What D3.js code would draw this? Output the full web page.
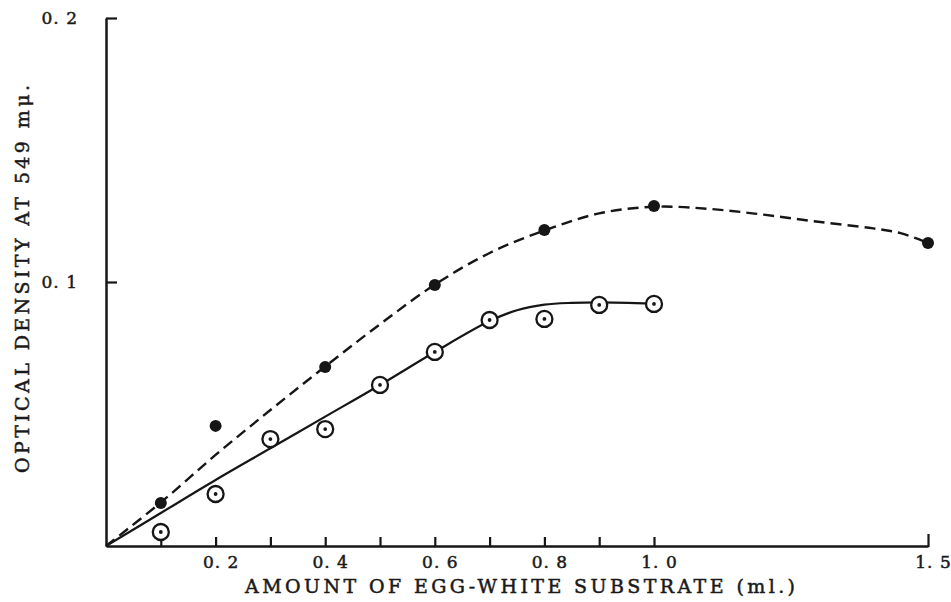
<!DOCTYPE html>
<html>
<head>
<meta charset="utf-8">
<script src="https://cdn.jsdelivr.net/npm/d3@7/dist/d3.min.js"></script>
<style>
  html, body { margin: 0; padding: 0; background: #fff; }
  svg { display: block; }
  .lbl { font-family: "DejaVu Serif", serif; fill: #1a1a1a; stroke: #1a1a1a; stroke-width: 0.5; }
</style>
</head>
<body>
<svg id="chart" width="951" height="602"></svg>
<script>
// Measured points: filled dots (dashed curve) and ringed dots (solid curve)
const filledX = [0.1, 0.2, 0.4, 0.6, 0.8, 1.0, 1.5];
const filledY = [0.0163, 0.0455, 0.0678, 0.0989, 0.1197, 0.1288, 0.1148];
const openX = [0.1, 0.2, 0.3, 0.4, 0.5, 0.6, 0.7, 0.8, 0.9, 1.0];
const openY = [0.0053, 0.0197, 0.0405, 0.0443, 0.061, 0.0735, 0.0856, 0.086, 0.0913, 0.0917];

// Hand-fitted smooth curves through each series
const dashCurveX = [0, 0.1, 0.2, 0.3, 0.4, 0.5, 0.6, 0.7, 0.8, 0.9, 1.0, 1.1, 1.2, 1.3, 1.4, 1.45, 1.5];
const dashCurveY = [0, 0.0165, 0.0345, 0.0515, 0.068, 0.084, 0.099, 0.111, 0.1195, 0.126, 0.1285, 0.1277, 0.1255, 0.1228, 0.1203, 0.1185, 0.1148];
const solidCurveX = [0, 0.1, 0.2, 0.3, 0.4, 0.5, 0.6, 0.7, 0.75, 0.8, 0.85, 0.9, 1.0];
const solidCurveY = [0, 0.0125, 0.025, 0.037, 0.049, 0.061, 0.0735, 0.0852, 0.0893, 0.0914, 0.0921, 0.0923, 0.0918];

// Axis ticks and labels
const xTicks = [0.1, 0.2, 0.3, 0.4, 0.5, 0.6, 0.7, 0.8, 0.9, 1.0, 1.5];
const xLabels = {0.2: "0. 2", 0.4: "0. 4", 0.6: "0. 6", 0.8: "0. 8", 1.0: "1. 0", 1.5: "1. 5"};
const yTicks = [0.1, 0.2];
const yLabels = {0.1: "0. 1", 0.2: "0. 2"};
const xTitle = "AMOUNT OF EGG-WHITE SUBSTRATE (ml.)";
const yTitle = "OPTICAL DENSITY AT 549 mμ.";

const svg = d3.select("#chart");
const x = d3.scaleLinear().domain([0, 1.5]).range([106, 928]);
const y = d3.scaleLinear().domain([0, 0.2]).range([546, 18]);
const ink = "#161616";

// X axis: ticks point up into the plot
const xAxis = d3.axisBottom(x)
  .tickValues(xTicks)
  .tickSize(-9)
  .tickSizeOuter(0)
  .tickPadding(10)
  .tickFormat(d => xLabels[d] || "");
const gx = svg.append("g").attr("transform", `translate(0,${y(0)})`).call(xAxis);
gx.select(".domain").attr("stroke", ink).attr("stroke-width", 2.5);
gx.selectAll(".tick line").attr("stroke", ink).attr("stroke-width", 2.2)
  .attr("y1", 1)
  .attr("y2", d => d === 1.5 ? -12 : -9);
gx.selectAll(".tick text")
  .attr("class", "lbl")
  .attr("font-size", 17)
  .attr("letter-spacing", 1)
  .attr("dx", 5);

// Y axis: ticks point right into the plot
const yAxis = d3.axisLeft(y)
  .tickValues(yTicks)
  .tickSize(-11)
  .tickSizeOuter(0)
  .tickPadding(28)
  .tickFormat(d => yLabels[d]);
const gy = svg.append("g").attr("transform", `translate(${x(0)},0)`).call(yAxis);
gy.select(".domain").attr("stroke", ink).attr("stroke-width", 2.5);
gy.selectAll(".tick line").attr("stroke", ink).attr("stroke-width", 2.2);
gy.selectAll(".tick text")
  .attr("class", "lbl")
  .attr("font-size", 17)
  .attr("letter-spacing", 1);

// Axis titles
svg.append("text")
  .attr("class", "lbl")
  .attr("x", 245).attr("y", 593)
  .attr("font-size", 19)
  .attr("textLength", 550)
  .attr("lengthAdjust", "spacing")
  .text(xTitle);

svg.append("text")
  .attr("class", "lbl")
  .attr("transform", "translate(29,473) rotate(-90)")
  .attr("font-size", 19)
  .attr("textLength", 388)
  .attr("lengthAdjust", "spacing")
  .text(yTitle);

// Fitted curves
const line = d3.line()
  .x(d => x(d[0]))
  .y(d => y(d[1]))
  .curve(d3.curveCatmullRom.alpha(0.5));

svg.append("path")
  .datum(dashCurveX.map((v, i) => [v, dashCurveY[i]]))
  .attr("d", line)
  .attr("fill", "none")
  .attr("stroke", ink)
  .attr("stroke-width", 2.4)
  .attr("stroke-dasharray", "11,6");

svg.append("path")
  .datum(solidCurveX.map((v, i) => [v, solidCurveY[i]]))
  .attr("d", line)
  .attr("fill", "none")
  .attr("stroke", ink)
  .attr("stroke-width", 2.2);

// Ringed points
const ring = svg.append("g").selectAll("g")
  .data(openX.map((v, i) => [v, openY[i]]))
  .join("g")
  .attr("transform", d => `translate(${x(d[0])},${y(d[1])})`);
ring.append("circle").attr("r", 8)
  .attr("fill", "#fff").attr("stroke", ink).attr("stroke-width", 2.3);
ring.append("circle").attr("r", 1.9).attr("fill", ink);

// Filled points
svg.append("g").selectAll("circle")
  .data(filledX.map((v, i) => [v, filledY[i]]))
  .join("circle")
  .attr("cx", d => x(d[0]))
  .attr("cy", d => y(d[1]))
  .attr("r", 6)
  .attr("fill", ink);
</script>
</body>
</html>
